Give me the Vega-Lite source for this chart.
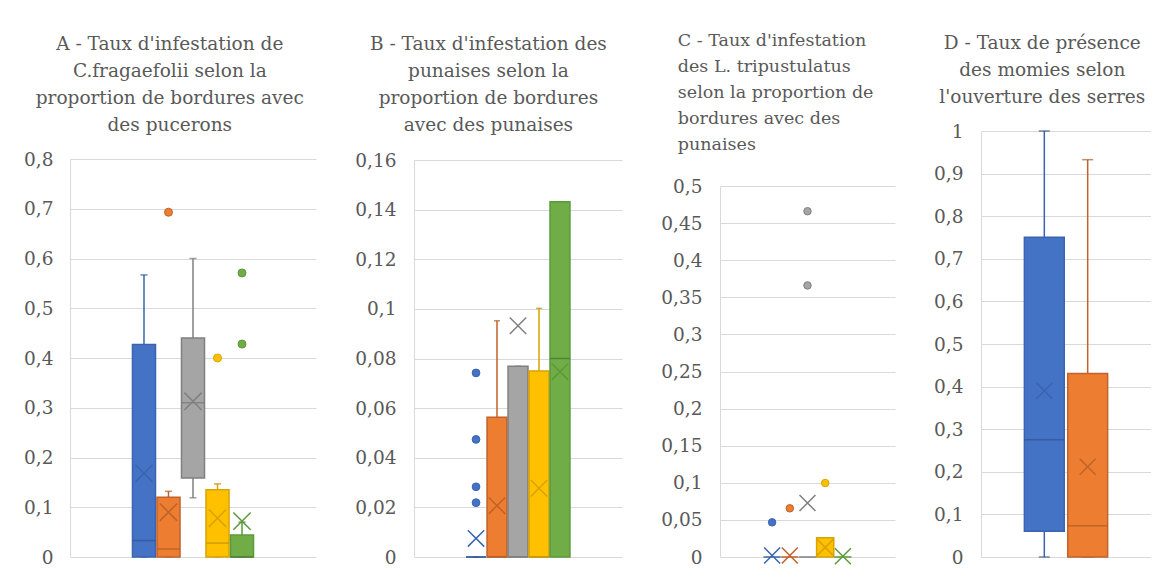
{
  "$schema": "https://vega.github.io/schema/vega-lite/v6.json",
  "padding": {"left": 23, "top": 31, "right": 0, "bottom": 0},
  "spacing": 38,
  "datasets": {
    "rows": [
      {"panel": "A", "series": "Série 1", "lo": 0, "q1": 0, "med": 0.033, "q3": 0.427, "hi": 0.567, "mean": 0.168},
      {"panel": "A", "series": "Série 2", "lo": 0, "q1": 0, "med": 0.016, "q3": 0.12, "hi": 0.132, "mean": 0.09},
      {"panel": "A", "series": "Série 3", "lo": 0.119, "q1": 0.159, "med": 0.31, "q3": 0.44, "hi": 0.6, "mean": 0.313},
      {"panel": "A", "series": "Série 4", "lo": 0, "q1": 0, "med": 0.028, "q3": 0.135, "hi": 0.147, "mean": 0.078},
      {"panel": "A", "series": "Série 5", "lo": 0, "q1": 0, "med": 0, "q3": 0.044, "hi": 0.07, "mean": 0.072},
      {"panel": "A", "series": "Série 2", "out": 0.693},
      {"panel": "A", "series": "Série 4", "out": 0.4},
      {"panel": "A", "series": "Série 5", "out": 0.571},
      {"panel": "A", "series": "Série 5", "out": 0.428},
      {"panel": "B", "series": "Série 1", "lo": 0, "q1": 0, "med": 0, "q3": 0, "hi": 0, "mean": 0.0075},
      {"panel": "B", "series": "Série 2", "lo": 0, "q1": 0, "med": 0, "q3": 0.0563, "hi": 0.0952, "mean": 0.0207},
      {"panel": "B", "series": "Série 3", "lo": 0, "q1": 0, "med": 0, "q3": 0.0769, "hi": 0.0769, "mean": 0.0932},
      {"panel": "B", "series": "Série 4", "lo": 0, "q1": 0, "med": 0, "q3": 0.075, "hi": 0.1002, "mean": 0.0277},
      {"panel": "B", "series": "Série 5", "lo": 0, "q1": 0, "med": 0.08, "q3": 0.1432, "hi": 0.1432, "mean": 0.0747},
      {"panel": "B", "series": "Série 1", "out": 0.0742},
      {"panel": "B", "series": "Série 1", "out": 0.0474},
      {"panel": "B", "series": "Série 1", "out": 0.0283},
      {"panel": "B", "series": "Série 1", "out": 0.0219},
      {"panel": "C", "series": "Série 1", "lo": 0, "q1": 0, "med": 0, "q3": 0, "hi": 0, "mean": 0.002},
      {"panel": "C", "series": "Série 2", "lo": 0, "q1": 0, "med": 0, "q3": 0, "hi": 0, "mean": 0.002},
      {"panel": "C", "series": "Série 3", "lo": 0, "q1": 0, "med": 0, "q3": 0, "hi": 0, "mean": 0.0728},
      {"panel": "C", "series": "Série 4", "lo": 0, "q1": 0, "med": 0, "q3": 0.026, "hi": 0.026, "mean": 0.013},
      {"panel": "C", "series": "Série 5", "lo": 0, "q1": 0, "med": 0, "q3": 0, "hi": 0, "mean": 0.001},
      {"panel": "C", "series": "Série 1", "out": 0.0467},
      {"panel": "C", "series": "Série 2", "out": 0.0656},
      {"panel": "C", "series": "Série 3", "out": 0.466},
      {"panel": "C", "series": "Série 3", "out": 0.366},
      {"panel": "C", "series": "Série 4", "out": 0.0997},
      {"panel": "D", "series": "Série 1", "lo": 0, "q1": 0.0603, "med": 0.2754, "q3": 0.7504, "hi": 1.0, "mean": 0.3904},
      {"panel": "D", "series": "Série 2", "lo": 0, "q1": 0, "med": 0.0736, "q3": 0.431, "hi": 0.9327, "mean": 0.212}
    ]
  },
  "hconcat": [
    {
      "width": 246, "height": 426,
      "title": {"text": ["A - Taux d'infestation de", "C.fragaefolii selon la", "proportion de bordures avec", "des pucerons"], "anchor": "middle", "offset": -3},
      "data": {"name": "rows"},
      "transform": [{"filter": "datum.panel === 'A'"}],
      "encoding": {"x": {"field": "series", "type": "nominal", "scale": {"type": "band", "domain": ["_g1", "_g2", "Série 1", "Série 2", "Série 3", "Série 4", "Série 5", "_d1", "_d2"], "paddingInner": 0.06, "paddingOuter": 0.55}, "axis": null}},
      "layer": [
        {"mark": {"type": "rule", "strokeWidth": 1.5},
         "encoding": {"y": {"field": "lo", "type": "quantitative", "title": null, "scale": {"domain": [0, 0.8], "nice": false, "zero": true, "range": [426, 28]},
           "axis": {"values": [0, 0.1, 0.2, 0.3, 0.4, 0.5, 0.6, 0.7, 0.8], "tickCount": 30, "labelPadding": 17, "labelExpr": "replace(format(datum.value, '.2~f'), '.', ',')"}},
           "y2": {"field": "hi"},
           "stroke": {"field": "series", "type": "nominal", "legend": null, "scale": {"domain": ["Série 1", "Série 2", "Série 3", "Série 4", "Série 5"], "range": ["#3A64B0", "#C0622A", "#808080", "#D9A300", "#5B9A3A"]}}}},
        {"mark": {"type": "tick", "thickness": 1.5, "size": 7},
         "encoding": {"y": {"field": "hi", "type": "quantitative", "title": null},
           "color": {"field": "series", "type": "nominal", "legend": null, "scale": {"domain": ["Série 1", "Série 2", "Série 3", "Série 4", "Série 5"], "range": ["#2F528F", "#AE5A21", "#787878", "#BC8C00", "#48702E"]}}}},
        {"mark": {"type": "tick", "thickness": 1.5, "size": 7},
         "encoding": {"y": {"field": "lo", "type": "quantitative", "title": null},
           "color": {"field": "series", "type": "nominal", "legend": null}}},
        {"mark": {"type": "bar", "strokeWidth": 1.5},
         "encoding": {"y": {"field": "q1", "type": "quantitative", "title": null}, "y2": {"field": "q3"},
           "fill": {"field": "series", "type": "nominal", "legend": null, "scale": {"domain": ["Série 1", "Série 2", "Série 3", "Série 4", "Série 5"], "range": ["#4472C4", "#ED7D31", "#A5A5A5", "#FFC000", "#70AD47"]}},
           "stroke": {"field": "series", "type": "nominal", "legend": null}}},
        {"mark": {"type": "tick", "thickness": 1.5, "size": 23},
         "encoding": {"y": {"field": "med", "type": "quantitative", "title": null},
           "color": {"field": "series", "type": "nominal", "legend": null}}},
        {"mark": {"type": "point", "shape": "M-1,-1L1,1M1,-1L-1,1", "size": 300, "filled": false, "strokeWidth": 1.5, "opacity": 1},
         "encoding": {"y": {"field": "mean", "type": "quantitative", "title": null},
           "stroke": {"field": "series", "type": "nominal", "legend": null}}},
        {"mark": {"type": "point", "shape": "circle", "size": 64, "filled": true, "strokeWidth": 1, "opacity": 1},
         "encoding": {"y": {"field": "out", "type": "quantitative", "title": null},
           "fill": {"field": "series", "type": "nominal", "legend": null},
           "stroke": {"field": "series", "type": "nominal", "legend": null}}}
      ]
    },
    {
      "width": 208, "height": 426,
      "title": {"text": ["B - Taux d'infestation des", "punaises selon la", "proportion de bordures", "avec des punaises"], "anchor": "middle", "offset": -3},
      "data": {"name": "rows"},
      "transform": [{"filter": "datum.panel === 'B'"}],
      "encoding": {"x": {"field": "series", "type": "nominal", "scale": {"type": "band", "domain": ["_g1", "_g2", "Série 1", "Série 2", "Série 3", "Série 4", "Série 5", "_d1", "_d2"], "paddingInner": 0.05, "paddingOuter": 0.48}, "axis": null}},
      "layer": [
        {"mark": {"type": "rule", "strokeWidth": 1.5},
         "encoding": {"y": {"field": "lo", "type": "quantitative", "title": null, "scale": {"domain": [0, 0.16], "nice": false, "zero": true, "range": [426, 29]},
           "axis": {"values": [0, 0.02, 0.04, 0.06, 0.08, 0.1, 0.12, 0.14, 0.16], "tickCount": 30, "labelPadding": 18, "labelExpr": "replace(format(datum.value, '.2~f'), '.', ',')"}},
           "y2": {"field": "hi"},
           "stroke": {"field": "series", "type": "nominal", "legend": null}}},
        {"mark": {"type": "tick", "thickness": 1.5, "size": 6},
         "encoding": {"y": {"field": "hi", "type": "quantitative", "title": null},
           "color": {"field": "series", "type": "nominal", "legend": null}}},
        {"mark": {"type": "bar", "strokeWidth": 1.5},
         "encoding": {"y": {"field": "q1", "type": "quantitative", "title": null}, "y2": {"field": "q3"},
           "fill": {"field": "series", "type": "nominal", "legend": null},
           "stroke": {"field": "series", "type": "nominal", "legend": null}}},
        {"mark": {"type": "tick", "thickness": 1.5, "size": 20},
         "encoding": {"y": {"field": "med", "type": "quantitative", "title": null},
           "color": {"field": "series", "type": "nominal", "legend": null}}},
        {"mark": {"type": "point", "shape": "M-1,-1L1,1M1,-1L-1,1", "size": 270, "filled": false, "strokeWidth": 1.5, "opacity": 1},
         "encoding": {"y": {"field": "mean", "type": "quantitative", "title": null},
           "stroke": {"field": "series", "type": "nominal", "legend": null}}},
        {"mark": {"type": "point", "shape": "circle", "size": 60, "filled": true, "strokeWidth": 1, "opacity": 1},
         "encoding": {"y": {"field": "out", "type": "quantitative", "title": null},
           "fill": {"field": "series", "type": "nominal", "legend": null},
           "stroke": {"field": "series", "type": "nominal", "legend": null}}}
      ]
    },
    {
      "width": 175, "height": 426,
      "title": {"text": ["C - Taux d'infestation", "des L. tripustulatus", "selon la proportion de", "bordures avec des", "punaises"], "anchor": "start", "dx": 17, "offset": -22, "fontSize": 17.5, "lineHeight": 26},
      "data": {"name": "rows"},
      "transform": [{"filter": "datum.panel === 'C'"}],
      "encoding": {"x": {"field": "series", "type": "nominal", "scale": {"type": "band", "domain": ["_g1", "_g2", "Série 1", "Série 2", "Série 3", "Série 4", "Série 5", "_d1", "_d2"], "paddingInner": 0.03, "paddingOuter": 0.46}, "axis": null}},
      "layer": [
        {"mark": {"type": "rule", "strokeWidth": 1.5},
         "encoding": {"y": {"field": "lo", "type": "quantitative", "title": null, "scale": {"domain": [0, 0.5], "nice": false, "zero": true, "range": [426, 55]},
           "axis": {"values": [0, 0.05, 0.1, 0.15, 0.2, 0.25, 0.3, 0.35, 0.4, 0.45, 0.5], "tickCount": 30, "labelPadding": 18, "labelExpr": "replace(format(datum.value, '.2~f'), '.', ',')"}},
           "y2": {"field": "hi"},
           "stroke": {"field": "series", "type": "nominal", "legend": null}}},
        {"mark": {"type": "bar", "strokeWidth": 1.5},
         "encoding": {"y": {"field": "q1", "type": "quantitative", "title": null}, "y2": {"field": "q3"},
           "fill": {"field": "series", "type": "nominal", "legend": null},
           "stroke": {"field": "series", "type": "nominal", "legend": null}}},
        {"mark": {"type": "point", "shape": "M-1,-1L1,1M1,-1L-1,1", "size": 256, "filled": false, "strokeWidth": 1.5, "opacity": 1},
         "encoding": {"y": {"field": "mean", "type": "quantitative", "title": null},
           "stroke": {"field": "series", "type": "nominal", "legend": null}}},
        {"mark": {"type": "point", "shape": "circle", "size": 56, "filled": true, "strokeWidth": 1, "opacity": 1},
         "encoding": {"y": {"field": "out", "type": "quantitative", "title": null},
           "fill": {"field": "series", "type": "nominal", "legend": null},
           "stroke": {"field": "series", "type": "nominal", "legend": null}}}
      ]
    },
    {
      "width": 170, "height": 426,
      "title": {"text": ["D - Taux de présence", "des momies selon", "l'ouverture des serres"], "anchor": "middle", "offset": 16},
      "data": {"name": "rows"},
      "transform": [{"filter": "datum.panel === 'D'"}],
      "encoding": {"x": {"field": "series", "type": "nominal", "scale": {"type": "band", "paddingInner": 0.08, "paddingOuter": 1}, "axis": null}},
      "layer": [
        {"mark": {"type": "rule", "strokeWidth": 1.5},
         "encoding": {"y": {"field": "lo", "type": "quantitative", "title": null, "scale": {"domain": [0, 1], "nice": false, "zero": true},
           "axis": {"values": [0, 0.1, 0.2, 0.3, 0.4, 0.5, 0.6, 0.7, 0.8, 0.9, 1], "tickCount": 30, "labelPadding": 18, "labelExpr": "replace(format(datum.value, '.2~f'), '.', ',')"}},
           "y2": {"field": "hi"},
           "stroke": {"field": "series", "type": "nominal", "legend": null}}},
        {"mark": {"type": "tick", "thickness": 1.5, "size": 11},
         "encoding": {"y": {"field": "hi", "type": "quantitative", "title": null},
           "color": {"field": "series", "type": "nominal", "legend": null}}},
        {"mark": {"type": "tick", "thickness": 1.5, "size": 11},
         "encoding": {"y": {"field": "lo", "type": "quantitative", "title": null},
           "color": {"field": "series", "type": "nominal", "legend": null}}},
        {"mark": {"type": "bar", "strokeWidth": 1.5},
         "encoding": {"y": {"field": "q1", "type": "quantitative", "title": null}, "y2": {"field": "q3"},
           "fill": {"field": "series", "type": "nominal", "legend": null},
           "stroke": {"field": "series", "type": "nominal", "legend": null}}},
        {"mark": {"type": "tick", "thickness": 1.5, "size": 40},
         "encoding": {"y": {"field": "med", "type": "quantitative", "title": null},
           "color": {"field": "series", "type": "nominal", "legend": null}}},
        {"mark": {"type": "point", "shape": "M-1,-1L1,1M1,-1L-1,1", "size": 256, "filled": false, "strokeWidth": 1.5, "opacity": 1},
         "encoding": {"y": {"field": "mean", "type": "quantitative", "title": null},
           "stroke": {"field": "series", "type": "nominal", "legend": null}}}
      ]
    }
  ],
  "config": {
    "view": {"stroke": null},
    "font": "DejaVu Serif",
    "title": {"font": "DejaVu Serif", "fontSize": 18.5, "fontWeight": "normal", "color": "#595959", "lineHeight": 27, "offset": 12, "frame": "bounds"},
    "axisY": {"domainColor": "#D9D9D9", "domainWidth": 1, "gridColor": "#D9D9D9", "gridWidth": 1, "ticks": false,
      "labelFont": "DejaVu Serif", "labelFontSize": 18.5, "labelColor": "#595959", "labelPadding": 16, "labelOverlap": false}
  }
}
